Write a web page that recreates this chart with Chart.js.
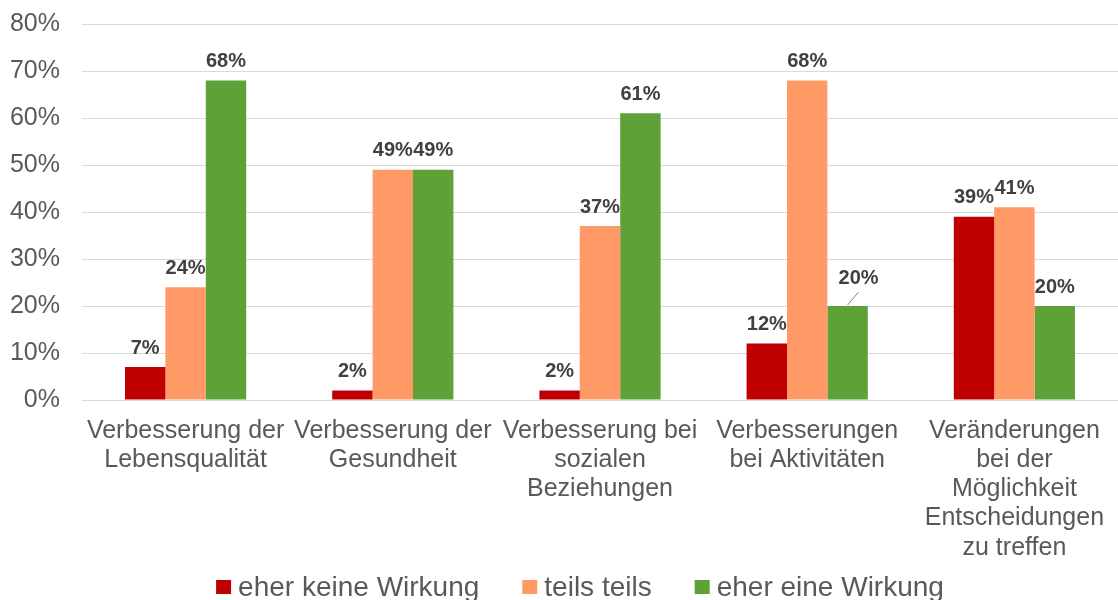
<!DOCTYPE html>
<html>
<head>
<meta charset="utf-8">
<script src="https://cdn.jsdelivr.net/npm/chart.js@4.4.1/dist/chart.umd.min.js"></script>
<style>
    html, body { margin: 0; padding: 0; background: #fff; }
    #wrap { width: 1118px; height: 600px; position: relative; }
</style>
</head>
<body>
<div id="wrap"><canvas id="wirkung-chart"></canvas></div>
<script>
var categories = [
    ['Verbesserung der', 'Lebensqualität'],
    ['Verbesserung der', 'Gesundheit'],
    ['Verbesserung bei', 'sozialen', 'Beziehungen'],
    ['Verbesserungen', 'bei Aktivitäten'],
    ['Veränderungen', 'bei der', 'Möglichkeit', 'Entscheidungen', 'zu treffen']
];
var seriesNames = ['eher keine Wirkung', 'teils teils', 'eher eine Wirkung'];
var keineWirkung = [7, 2, 2, 12, 39];
var teilsTeils = [24, 49, 37, 68, 41];
var eineWirkung = [68, 49, 61, 20, 20];
var yTickValues = [0, 10, 20, 30, 40, 50, 60, 70, 80];

var seriesColors = ['#C00000', '#FF9966', '#5DA137'];
var fontFamily = '"Liberation Sans", Arial, sans-serif';

// value labels above the bars (one is moved aside with a leader line, as in the original)
var labelShift = { '2-3': [11, -9] };

var valueLabels = {
    id: 'valueLabels',
    afterDatasetsDraw: function (chart) {
        var ctx = chart.ctx;
        ctx.save();
        ctx.font = 'bold 20px ' + fontFamily;
        ctx.fillStyle = '#404040';
        ctx.textAlign = 'center';
        ctx.textBaseline = 'middle';
        chart.data.datasets.forEach(function (ds, di) {
            var meta = chart.getDatasetMeta(di);
            meta.data.forEach(function (bar, i) {
                var shift = labelShift[di + '-' + i];
                var x = bar.x, y = bar.y - 19;
                if (shift) {
                    x += shift[0];
                    y += shift[1];
                    ctx.strokeStyle = '#808080';
                    ctx.lineWidth = 1;
                    ctx.beginPath();
                    ctx.moveTo(x, y + 14);
                    ctx.lineTo(bar.x, bar.y - 1);
                    ctx.stroke();
                }
                ctx.fillText(ds.data[i] + '%', x, y);
            });
        });
        ctx.restore();
    }
};

var bottomLegend = {
    id: 'bottomLegend',
    afterDraw: function (chart) {
        var ctx = chart.ctx;
        var box = 15, gap = 7, spacing = 43;
        ctx.save();
        ctx.font = '28px ' + fontFamily;
        var total = 0;
        var widths = chart.data.datasets.map(function (ds) {
            var w = box + gap + ctx.measureText(ds.label).width;
            total += w;
            return w;
        });
        total += spacing * (widths.length - 1);
        var x = 580 - total / 2;
        ctx.textBaseline = 'alphabetic';
        ctx.textAlign = 'left';
        chart.data.datasets.forEach(function (ds, i) {
            ctx.fillStyle = ds.backgroundColor;
            ctx.fillRect(x, 580, box, 14);
            ctx.fillStyle = '#595959';
            ctx.fillText(ds.label, x + box + gap, 596);
            x += widths[i] + spacing;
        });
        ctx.restore();
    }
};

var ctx = document.getElementById('wirkung-chart');
var WirkungChart = new Chart(ctx, {
    type: 'bar',
    data: {
        labels: categories,
        datasets: [
            { label: seriesNames[0], data: keineWirkung, backgroundColor: seriesColors[0] },
            { label: seriesNames[1], data: teilsTeils, backgroundColor: seriesColors[1] },
            { label: seriesNames[2], data: eineWirkung, backgroundColor: seriesColors[2] }
        ]
    },
    plugins: [valueLabels, bottomLegend],
    options: {
        responsive: true,
        maintainAspectRatio: false,
        animation: false,
        datasets: {
            bar: {
                barPercentage: 1.0,
                categoryPercentage: 0.585
            }
        },
        layout: {
            padding: { top: 24, right: 0, bottom: 30, left: 0 }
        },
        plugins: {
            legend: { display: false },
            tooltip: { enabled: false }
        },
        scales: {
            x: {
                grid: { display: false },
                border: { display: false },
                ticks: {
                    color: '#595959',
                    font: { family: fontFamily, size: 25, lineHeight: 1.17 },
                    padding: 8,
                    maxRotation: 0,
                    autoSkip: false
                },
                afterFit: function (scale) { scale.height = 170; }
            },
            y: {
                min: 0,
                max: 80,
                afterBuildTicks: function (scale) {
                    scale.ticks = yTickValues.map(function (v) { return { value: v }; });
                },
                grid: { color: '#D9D9D9', lineWidth: 1, drawTicks: true, tickLength: 20, tickColor: 'rgba(0,0,0,0)' },
                border: { display: false },
                ticks: {
                    color: '#595959',
                    font: { family: fontFamily, size: 25 },
                    padding: 2,
                    callback: function (v) { return v + '%'; }
                },
                afterFit: function (scale) { scale.width = 82; }
            }
        }
    }
});
</script>
</body>
</html>
